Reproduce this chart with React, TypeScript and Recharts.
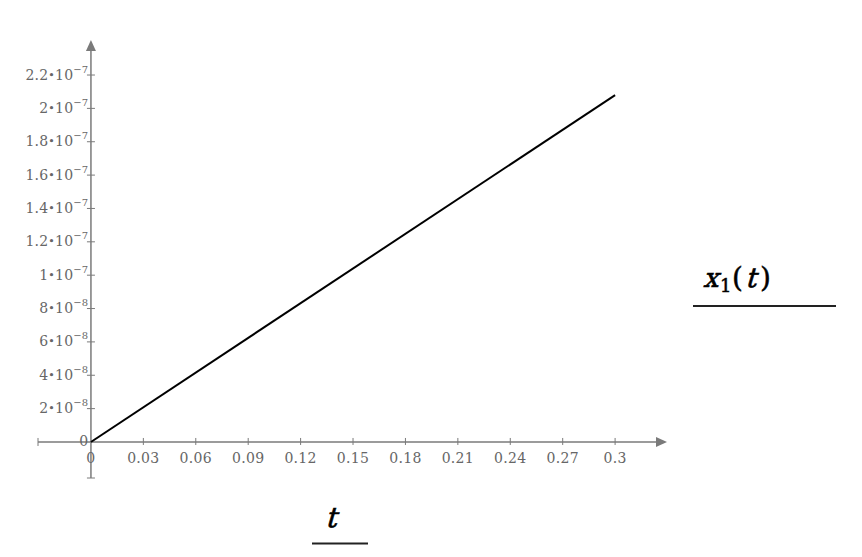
import { ComposedChart, Line, XAxis, YAxis, ReferenceLine } from 'recharts';

const T_VALUES = [0, 0.3];
const X1_VALUES = [0, 2.08e-7];
const X_TICKS = [0, 0.03, 0.06, 0.09, 0.12, 0.15, 0.18, 0.21, 0.24, 0.27, 0.3];
const Y_TICKS = [0, 2e-8, 4e-8, 6e-8, 8e-8, 1e-7, 1.2e-7, 1.4e-7, 1.6e-7, 1.8e-7, 2e-7, 2.2e-7];

const X_DOMAIN: [number, number] = [-0.0303, 0.3297];
const Y_DOMAIN: [number, number] = [-2.16e-8, 2.41e-7];

const data = T_VALUES.map((t, i) => ({ t, x1: X1_VALUES[i] }));

const W = 862;
const H = 557;
const M = { top: 40, right: 195, bottom: 78, left: 37 };
const plotW = W - M.left - M.right - 1;
const plotH = H - M.top - M.bottom - 1;
// offset of zero from plot edges, so ticks sit on the crossing axes
const zeroFromBottom = (plotH * (0 - Y_DOMAIN[0])) / (Y_DOMAIN[1] - Y_DOMAIN[0]);
const zeroFromLeft = (plotW * (0 - X_DOMAIN[0])) / (X_DOMAIN[1] - X_DOMAIN[0]);

const AXIS = '#7a7a7a';
const TEXT = '#666';
const FONT = '"DejaVu Serif", serif';

function fmtX(v: number) {
  return String(Math.round(v * 100) / 100);
}

function XTick(props: any) {
  const { x, y, payload } = props;
  const y0 = y - zeroFromBottom;
  return (
    <g>
      {payload.value !== 0 && <line x1={x} x2={x} y1={y0 - 4} y2={y0 + 3} stroke={AXIS} />}
      <text x={x} y={y0 + 21.5} textAnchor="middle" fill={TEXT} fontSize={14} letterSpacing={0.3} fontFamily={FONT}>
        {fmtX(payload.value)}
      </text>
    </g>
  );
}

function YTick(props: any) {
  const { x, y, payload } = props;
  const x0 = x + zeroFromLeft;
  const v = payload.value as number;
  let label: any = '0';
  if (v !== 0) {
    const [m, e] = v.toExponential(1).split('e');
    const mant = m.replace(/\.0$/, '');
    const exp = String(parseInt(e, 10)).replace('-', '\u2212');
    label = (
      <>
        <tspan>{mant}</tspan>
        <tspan fontSize={11} dy={-1}>{'\u2022'}</tspan>
        <tspan fontSize={14} dy={1}>10</tspan>
        <tspan dy={-7} fontSize={10}>{exp}</tspan>
      </>
    );
  }
  return (
    <g>
      {v !== 0 && <line x1={x0 - 4} x2={x0 + 4} y1={y} y2={y} stroke={AXIS} />}
      <text x={x0 - 2.5} y={y + 4.5} textAnchor="end" fill={TEXT} fontSize={14} letterSpacing={0.2} fontFamily={FONT}>
        {label}
      </text>
    </g>
  );
}

function HAxis(p: any) {
  const xa = Math.min(p.x1, p.x2);
  const xb = Math.max(p.x1, p.x2);
  const y = p.y1;
  return (
    <g>
      <line x1={xa} x2={xb - 8} y1={y} y2={y} stroke={AXIS} strokeWidth={1.5} />
      <line x1={xa} x2={xa} y1={y - 4} y2={y + 4} stroke={AXIS} />
      <polygon points={`${xb},${y} ${xb - 11},${y - 5} ${xb - 11},${y + 5}`} fill={AXIS} />
    </g>
  );
}

function VAxis(p: any) {
  const ya = Math.min(p.y1, p.y2);
  const yb = Math.max(p.y1, p.y2);
  const x = p.x1;
  return (
    <g>
      <line x1={x} x2={x} y1={ya + 8} y2={yb} stroke={AXIS} strokeWidth={1.5} />
      <line x1={x - 4} x2={x + 4} y1={yb} y2={yb} stroke={AXIS} />
      <polygon points={`${x},${ya} ${x - 5},${ya + 11} ${x + 5},${ya + 11}`} fill={AXIS} />
    </g>
  );
}

// slanted serif letter (math italic look)
function Ital({ x, y, size, children }: any) {
  return (
    <g transform={`translate(${x},${y}) skewX(-16)`}>
      <text x={0} y={0} fontSize={size} fontFamily={FONT} fill="#000" stroke="#000" strokeWidth={0.6}>
        {children}
      </text>
    </g>
  );
}

// axis names drawn Mathcad-style, each above a short rule
function Labels() {
  const up = { fontFamily: FONT, fill: '#000', stroke: '#000', strokeWidth: 0.5 };
  return (
    <svg width={W} height={H} style={{ position: 'absolute', left: 0, top: 0, pointerEvents: 'none' }}>
      <Ital x={703} y={287} size={27}>x</Ital>
      <text x={720} y={292} fontSize={18} {...up}>1</text>
      <text x={732} y={287} fontSize={28} {...up}>(</text>
      <Ital x={745} y={287} size={27}>t</Ital>
      <text x={760} y={287} fontSize={28} {...up}>)</text>
      <line x1={693} x2={836} y1={306} y2={306} stroke="#222" strokeWidth={2} />
      <Ital x={325} y={527} size={28}>t</Ital>
      <line x1={312} x2={368} y1={543.5} y2={543.5} stroke="#222" strokeWidth={2} />
    </svg>
  );
}

export default function App() {
  return (
    <div style={{ position: 'absolute', left: 0, top: 0, width: W, height: H, background: '#fff' }}>
      <ComposedChart width={W} height={H} data={data} margin={M}>
        <XAxis
          type="number"
          dataKey="t"
          domain={X_DOMAIN}
          ticks={X_TICKS}
          allowDataOverflow
          axisLine={false}
          tickLine={false}
          tickSize={0}
          tickMargin={0}
          height={1}
          interval={0}
          tick={(p: any) => <XTick {...p} />}
        />
        <YAxis
          type="number"
          domain={Y_DOMAIN}
          ticks={Y_TICKS}
          allowDataOverflow
          axisLine={false}
          tickLine={false}
          tickSize={0}
          tickMargin={0}
          width={1}
          interval={0}
          tick={(p: any) => <YTick {...p} />}
        />
        <ReferenceLine y={0} shape={(p: any) => <HAxis {...p} />} />
        <ReferenceLine x={0} shape={(p: any) => <VAxis {...p} />} />
        <Line
          type="linear"
          dataKey="x1"
          name="x1(t)"
          stroke="#000"
          strokeWidth={2}
          dot={false}
          isAnimationActive={false}
        />
      </ComposedChart>
      <Labels />
    </div>
  );
}
